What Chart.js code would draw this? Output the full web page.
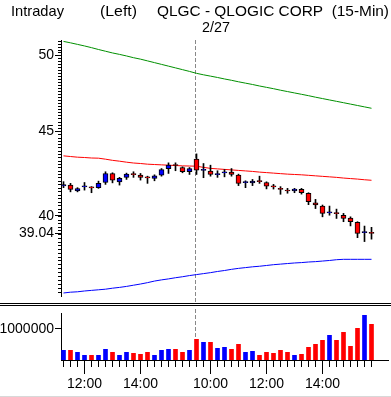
<!DOCTYPE html>
<html><head><meta charset="utf-8">
<script src="https://cdn.jsdelivr.net/npm/chart.js@4.4.1/dist/chart.umd.min.js"></script>
<style>
html,body{margin:0;padding:0;background:#fff;overflow:hidden}
#wrap{position:relative;width:391px;height:397px;background:#fff}
canvas{position:absolute;left:0;top:0}
</style></head><body>
<div id="wrap"><canvas id="price" width="391" height="397"></canvas><canvas id="vol" width="391" height="397"></canvas></div>
<script>
// ---------- data ----------
const times = ['11:15','11:30','11:45','12:00','12:15','12:30','12:45','13:00','13:15','13:30','13:45','14:00','14:15','14:30','14:45','15:00','15:15','15:30','15:45',
  '09:30','09:45','10:00','10:15','10:30','10:45','11:00','11:15','11:30','11:45','12:00','12:15','12:30','12:45','13:00','13:15','13:30','13:45','14:00','14:15','14:30','14:45','15:00','15:15','15:30','15:45'];
const opens  = [41.70,41.75,41.42,41.65,41.61,41.60,41.90,42.43,41.94,42.20,42.38,42.33,42.19,42.14,42.33,42.72,42.94,42.78,42.53,
  43.29,42.61,42.57,42.36,42.46,42.51,42.33,41.89,41.88,41.97,41.90,41.67,41.56,41.43,41.42,41.50,41.28,40.74,40.55,40.17,40.15,40.03,39.88,39.64,39.08,39.06];
const closes = [41.78,41.50,41.55,41.67,41.59,41.85,42.43,42.04,42.14,42.39,42.36,42.20,42.17,42.29,42.66,42.92,42.90,42.53,42.72,
  42.63,42.65,42.37,42.38,42.48,42.37,41.85,41.91,41.98,41.95,41.69,41.65,41.50,41.41,41.52,41.31,40.80,40.61,40.14,40.19,40.13,39.86,39.68,39.04,39.10,39.04];
const highs  = [41.95,41.85,41.60,41.90,41.66,41.98,42.53,42.47,42.20,42.45,42.53,42.43,42.27,42.35,42.72,43.06,43.06,42.82,42.78,
  43.60,43.02,42.92,42.59,42.66,42.72,42.39,42.00,42.08,42.27,41.94,41.79,41.66,41.56,41.56,41.56,41.31,40.93,40.61,40.55,40.38,40.14,39.95,39.68,39.44,39.37];
const lows   = [41.60,41.36,41.36,41.46,41.31,41.56,41.79,41.88,41.75,42.08,42.20,42.04,41.85,42.00,42.27,42.43,42.59,42.47,42.37,
  42.37,42.18,42.27,42.20,42.23,42.27,41.72,41.60,41.72,41.85,41.53,41.52,41.22,41.28,41.31,41.23,40.63,40.41,39.95,40.04,39.86,39.68,39.45,38.81,38.60,38.73];
const volumes = [312000,312000,247000,150000,150000,150000,344000,247000,150000,247000,215000,183000,247000,150000,312000,344000,344000,247000,312000,
  667000,570000,570000,376000,409000,344000,505000,247000,280000,150000,247000,215000,312000,247000,150000,183000,409000,505000,634000,796000,634000,892000,441000,1021000,1441000,1150000];
const upperBand = [50.97,50.87,50.76,50.65,50.53,50.40,50.28,50.16,50.06,49.95,49.83,49.73,49.61,49.49,49.37,49.25,49.13,49.01,48.89,
  48.76,48.66,48.57,48.48,48.38,48.29,48.19,48.10,48.01,47.91,47.82,47.73,47.63,47.54,47.45,47.36,47.27,47.17,47.08,46.99,46.90,46.81,46.72,46.63,46.54,46.45];
const midBand = [43.48,43.44,43.40,43.38,43.35,43.34,43.28,43.21,43.16,43.10,43.05,43.02,42.98,42.96,42.94,42.92,42.90,42.88,42.87,
  42.86,42.79,42.73,42.70,42.67,42.64,42.61,42.58,42.55,42.51,42.48,42.45,42.42,42.39,42.37,42.35,42.32,42.29,42.26,42.23,42.20,42.16,42.13,42.10,42.06,42.03];
const lowerBand = [35.94,35.98,36.00,36.04,36.07,36.10,36.13,36.18,36.22,36.27,36.33,36.39,36.46,36.54,36.60,36.65,36.71,36.76,36.82,
  36.87,36.92,36.97,37.03,37.08,37.14,37.19,37.23,37.27,37.30,37.34,37.38,37.41,37.44,37.47,37.49,37.52,37.54,37.57,37.60,37.64,37.66,37.66,37.66,37.66,37.66];
const priceTicks = [50, 45, 40, 39.04];
const volumeTicks = [1000000];
const timeTickLabels = ['12:00', '14:00', '10:00'];
const sessionBreak = 19;   // first bar of 2/27
const titleLeft = 'Intraday';
const titleMid = '(Left)';
const titleRight = 'QLGC - QLOGIC CORP  (15-Min)';
const dateLabel = '2/27';

// ---------- style ----------
const FONT = '"Liberation Sans", Arial, sans-serif';
const UP = '#0000ff', DOWN = '#ff0000';
const dir = opens.map((o, i) => closes[i] >= o);
const candleColors = dir.map(u => u ? UP : DOWN);
const X_MIN = -0.357, X_MAX = 46.357;
Chart.defaults.font.family = FONT;
Chart.defaults.color = '#000';

function fitText(ctx, text, x, y, w) {
  const m = ctx.measureText(text).width;
  ctx.save(); ctx.translate(x, y); ctx.scale(w / m, 1); ctx.fillText(text, 0, 0); ctx.restore();
}

const pricePlugin = {
  id: 'pricePlugin',
  beforeDatasetsDraw(chart) {
    const ctx = chart.ctx, xs = chart.scales.x;
    const px = Math.floor(xs.getPixelForValue(sessionBreak)) - 0.5;
    ctx.save(); ctx.strokeStyle = '#888'; ctx.lineWidth = 1; ctx.setLineDash([4, 2]);
    ctx.beginPath(); ctx.moveTo(px, 40); ctx.lineTo(px, 302); ctx.stroke(); ctx.restore();
  },
  afterDraw(chart) {
    const ctx = chart.ctx, ys = chart.scales.y;
    const right = ys.right;
    ctx.save(); ctx.strokeStyle = '#000'; ctx.lineWidth = 1;
    ctx.beginPath();
    for (let k = 180; k <= 255; k++) {
      const v = k / 5;
      const py = Math.round(ys.getPixelForValue(v)) + 0.5;
      if (py < chart.chartArea.top - 1 || py > chart.chartArea.bottom + 1) continue;
      ctx.moveTo(right - 3, py); ctx.lineTo(right, py);
    }
    ctx.stroke();
    ctx.fillStyle = '#000'; ctx.font = '15px ' + FONT; ctx.textBaseline = 'alphabetic';
    fitText(ctx, titleLeft, 11, 16, 53);
    fitText(ctx, titleMid, 100, 16, 37);
    fitText(ctx, titleRight, 157, 16, 232);
    fitText(ctx, dateLabel, 202, 32, 28);
    ctx.restore();
  }
};

new Chart(document.getElementById('price'), {
  data: {
    datasets: [
      { type: 'line', data: upperBand.map((v, i) => ({x: i, y: v})), borderColor: '#009000', borderWidth: 1, pointRadius: 0, tension: 0, order: 5 },
      { type: 'line', data: midBand.map((v, i) => ({x: i, y: v})), borderColor: '#ff0000', borderWidth: 1, pointRadius: 0, tension: 0, order: 5 },
      { type: 'line', data: lowerBand.map((v, i) => ({x: i, y: v})), borderColor: '#0000ff', borderWidth: 1, pointRadius: 0, tension: 0, order: 5 },
      { type: 'bar', data: lows.map((v, i) => ({x: i, y: [v, highs[i]]})), backgroundColor: '#000', borderWidth: 0, barThickness: 1, grouped: false, order: 2 },
      { type: 'bar', data: opens.map((v, i) => ({x: i, y: [v, closes[i]]})), backgroundColor: candleColors, borderColor: '#000', borderWidth: 1, borderSkipped: false, barThickness: 5, minBarLength: 1, grouped: false, order: 1 }
    ]
  },
  options: {
    responsive: false, animation: false, events: [],
    layout: { autoPadding: false, padding: { top: 40, bottom: 101, left: 0, right: 3 } },
    plugins: { legend: { display: false }, tooltip: { enabled: false } },
    scales: {
      x: { type: 'linear', min: X_MIN, max: X_MAX, offset: false, display: false },
      y: {
        type: 'logarithmic', position: 'left', min: 35.79, max: 51.07, bounds: 'data',
        afterBuildTicks: s => { s.ticks = priceTicks.map(v => ({ value: v })); },
        afterFit: s => { s.width = 61; },
        ticks: { autoSkip: false, padding: 1, font: { size: 14 }, color: '#000', callback: v => String(v) },
        grid: { display: true, drawOnChartArea: false, drawTicks: true, tickLength: 6, color: '#000', lineWidth: 1 },
        border: { display: true, color: '#000', width: 1 }
      }
    }
  },
  plugins: [pricePlugin]
});

const volPlugin = {
  id: 'volPlugin',
  beforeDatasetsDraw(chart) {
    const ctx = chart.ctx, xs = chart.scales.x;
    const px = Math.floor(xs.getPixelForValue(sessionBreak)) - 0.5;
    ctx.save(); ctx.strokeStyle = '#888'; ctx.lineWidth = 1; ctx.setLineDash([4, 2]);
    ctx.beginPath(); ctx.moveTo(px, 309); ctx.lineTo(px, chart.chartArea.bottom); ctx.stroke(); ctx.restore();
  },
  afterDraw(chart) {
    const ctx = chart.ctx, xs = chart.scales.x;
    const bottom = chart.chartArea.bottom;
    ctx.save(); ctx.strokeStyle = '#000'; ctx.lineWidth = 1;
    ctx.beginPath();
    times.forEach((t, i) => {
      const px = Math.floor(xs.getPixelForValue(i)) + 0.5;
      ctx.moveTo(px, bottom); ctx.lineTo(px, bottom + 7);
    });
    ctx.moveTo(0, 303.5); ctx.lineTo(391, 303.5);
    ctx.moveTo(0, 305.5); ctx.lineTo(391, 305.5);
    ctx.stroke();
    ctx.strokeStyle = '#d8d8d8';
    ctx.beginPath(); ctx.moveTo(0, 396.5); ctx.lineTo(391, 396.5); ctx.stroke();
    ctx.restore();
  }
};

new Chart(document.getElementById('vol'), {
  data: {
    datasets: [
      { type: 'bar', data: volumes.map((v, i) => ({x: i, y: v})), backgroundColor: candleColors, borderWidth: 0, barThickness: 4, grouped: false }
    ]
  },
  options: {
    responsive: false, animation: false, events: [],
    layout: { autoPadding: false, padding: { top: 313, bottom: 0, left: 0, right: 3 } },
    plugins: { legend: { display: false }, tooltip: { enabled: false } },
    scales: {
      x: {
        type: 'linear', min: X_MIN, max: X_MAX, offset: false, position: 'bottom',
        afterBuildTicks: s => { s.ticks = times.map((t, i) => ({ value: i, t })).filter(o => timeTickLabels.includes(o.t)).map(o => ({ value: o.value })); },
        afterFit: s => { s.height = 37; },
        ticks: { autoSkip: false, maxRotation: 0, padding: 2, font: { size: 14 }, color: '#000', callback: v => times[v] },
        grid: { display: true, offset: false, drawOnChartArea: false, drawTicks: true, tickLength: 14, color: '#000', lineWidth: 1 },
        border: { display: true, color: '#000', width: 1 }
      },
      y: {
        type: 'linear', position: 'left', min: 0, max: 1516000,
        afterBuildTicks: s => { s.ticks = volumeTicks.map(v => ({ value: v })); },
        afterFit: s => { s.width = 61; },
        ticks: { autoSkip: false, padding: 1, font: { size: 14 }, color: '#000', callback: v => String(v) },
        grid: { display: true, drawOnChartArea: false, drawTicks: true, tickLength: 6, color: '#000', lineWidth: 1 },
        border: { display: true, color: '#000', width: 1 }
      }
    }
  },
  plugins: [volPlugin]
});
</script>
</body></html>
